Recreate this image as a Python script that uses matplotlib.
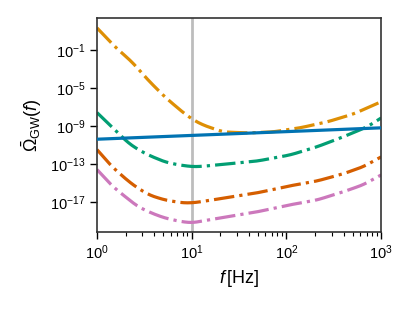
import matplotlib
matplotlib.use("Agg")
import matplotlib.pyplot as plt
import numpy as np

plt.rcParams['font.family'] = ['Liberation Sans', 'DejaVu Sans']
plt.rcParams['mathtext.fontset'] = 'custom'
plt.rcParams['mathtext.rm'] = 'Liberation Sans'
plt.rcParams['mathtext.it'] = 'Liberation Sans:italic'
plt.rcParams['mathtext.bf'] = 'Liberation Sans:bold'
plt.rcParams['font.size'] = 10.5

f_orange = [1, 1.55, 2.34, 3.45, 5.2, 7.9, 10.1, 13.1, 21.4, 38.4, 72, 139, 268, 510, 1000]
log_orange = [1.32, -0.68, -2.26, -4.16, -5.95, -7.5, -8.3, -8.9, -9.63, -9.74, -9.63, -9.2, -8.58, -7.74, -6.45]

f_green = [1, 1.55, 2.07, 2.64, 3.45, 5.2, 7.2, 10.3, 13.1, 49, 110, 210, 395, 710, 1000]
log_green = [-7.6, -9.42, -10.68, -11.42, -12.05, -12.79, -13.1, -13.3, -13.25, -12.7, -12.05, -11.2, -10.16, -9.1, -8.16]

f_red = [1, 1.44, 2.07, 2.64, 3.6, 5.2, 7.9, 10.3, 13.1, 49, 110, 210, 395, 645, 1000]
log_red = [-11.5, -13.3, -14.7, -15.5, -16.3, -16.8, -17.1, -17.1, -16.95, -16.05, -15.3, -14.8, -14.05, -13.3, -12.26]

f_pink = [1, 1.47, 2.07, 2.7, 3.8, 5.2, 7.9, 10.3, 13.1, 49, 110, 210, 395, 645, 1000]
log_pink = [-13.6, -15.4, -16.6, -17.5, -18.2, -18.7, -19.1, -19.2, -19.0, -18.05, -17.3, -16.8, -15.95, -15.2, -14.16]

f_blue = [1, 1000]
log_blue = [-10.4, -9.2]

f_ref = 10  # vertical marker

fig = plt.figure(figsize=(4.13, 3.10), dpi=100)
ax = fig.add_axes([0.235, 0.252, 0.688, 0.69])

ax.axvline(f_ref, color='#bdbdbd', lw=2, zorder=1)

def smooth(fs, logs, k=8):
    # interpolate in log-log space, then soften the corners a little
    lf = np.log10(fs)
    xx = np.linspace(lf[0], lf[-1], 400)
    yy = np.interp(xx, lf, logs)
    ker = np.ones(2 * k + 1) / (2 * k + 1)
    ys = np.convolve(np.pad(yy, k, mode='reflect', reflect_type='odd'), ker, mode='valid')
    return 10 ** xx, 10 ** ys

lw = 2.3
ax.plot(*smooth(f_blue, log_blue), color='#0173b2', lw=lw, ls='-', zorder=3)
ax.plot(*smooth(f_orange, log_orange), color='#de8f05', lw=lw, ls='-.', zorder=2)
ax.plot(*smooth(f_green, log_green), color='#029e73', lw=lw, ls='-.', zorder=2)
ax.plot(*smooth(f_red, log_red), color='#d55e00', lw=lw, ls='-.', zorder=2)
ax.plot(*smooth(f_pink, log_pink), color='#cc78bc', lw=lw, ls='-.', zorder=2)

ax.set_xscale('log')
ax.set_yscale('log')
ax.set_xlim(1, 1000)
ax.set_ylim(10 ** -20.16, 10 ** 2.37)
ax.set_yticks([1e-17, 1e-13, 1e-9, 1e-5, 1e-1])
ax.yaxis.set_minor_locator(matplotlib.ticker.NullLocator())
ax.tick_params(which='major', length=5, width=1, direction='out')
ax.tick_params(which='minor', length=3, width=0.8, direction='out')
for s in ax.spines.values():
    s.set_linewidth(1.2)
    s.set_color('#333333')

ax.set_xlabel(r'$f\,$[Hz]', fontsize=13)
ax.set_ylabel(r'$\bar{\Omega}_{\mathrm{GW}}(f)$', fontsize=13)

fig.savefig('out.png', dpi=100)
